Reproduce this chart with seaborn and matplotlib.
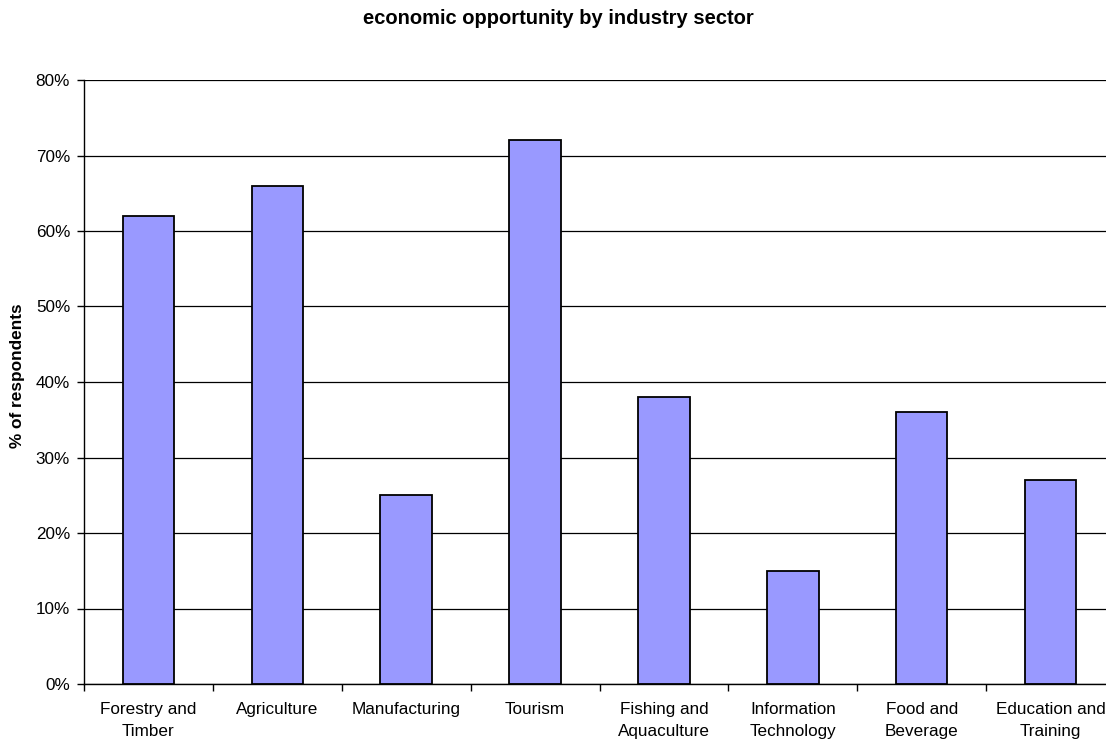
import matplotlib
matplotlib.use("Agg")
import matplotlib.pyplot as plt
import seaborn as sns
import numpy as np
import pandas as pd
from matplotlib.ticker import FixedLocator, PercentFormatter

sectors = ["Forestry and\nTimber", "Agriculture", "Manufacturing", "Tourism",
           "Fishing and\nAquaculture", "Information\nTechnology", "Food and\nBeverage",
           "Education and\nTraining"]
percent = [62, 66, 25, 72, 38, 15, 36, 27]
y_ticks = [0, 10, 20, 30, 40, 50, 60, 70, 80]

sns.set_theme(style="white")
plt.rcParams["font.family"] = ["Liberation Sans", "DejaVu Sans"]

df = pd.DataFrame({"sector": sectors, "percent": percent})

fig = plt.figure(figsize=(11.06, 7.41), dpi=100)
W, H = 1106, 741
left, right, top, bottom = 84, 1115, 80, 684
ax = fig.add_axes([left / W, 1 - bottom / H, (right - left) / W, (bottom - top) / H])

sns.barplot(data=df, x="sector", y="percent", color="#9999FF", saturation=1,
            edgecolor="black", linewidth=1.3, width=0.4, ax=ax, zorder=3)

ax.set_xlim(-0.5, len(sectors) - 0.5)
ax.set_ylim(0, 80)
ax.set_yticks(y_ticks)
ax.yaxis.set_major_formatter(PercentFormatter(decimals=0))
ax.yaxis.grid(True, color="black", linewidth=0.9, zorder=0)
ax.set_axisbelow(True)

# Category boundary tick marks on the x axis
ax.xaxis.set_minor_locator(FixedLocator(np.arange(-0.5, len(sectors), 1.0)))
ax.tick_params(axis="x", which="major", length=0, pad=13, labelsize=12.3, colors="black")
ax.tick_params(axis="x", which="minor", length=5, width=1, color="black", bottom=True)
ax.tick_params(axis="y", which="major", length=5, width=1, color="black", left=True,
               labelsize=12.3, labelcolor="black", pad=5)
for lbl in ax.get_xticklabels():
    lbl.set_linespacing(1.6)

for s in ["top", "right"]:
    ax.spines[s].set_visible(False)
for s in ["left", "bottom"]:
    ax.spines[s].set_color("black")
    ax.spines[s].set_linewidth(1.0)

ax.set_xlabel("")
ax.set_ylabel("")
fig.text(18 / W, 1 - 376 / H, "% of respondents", rotation=90, ha="center", va="center",
         fontsize=12.4, fontweight="bold", color="black")
fig.text(558 / W, 1 - 19 / H, "economic opportunity by industry sector", ha="center", va="center",
         fontsize=14.5, fontweight="bold", color="black")

fig.savefig("out.png", dpi=100, facecolor="white")
